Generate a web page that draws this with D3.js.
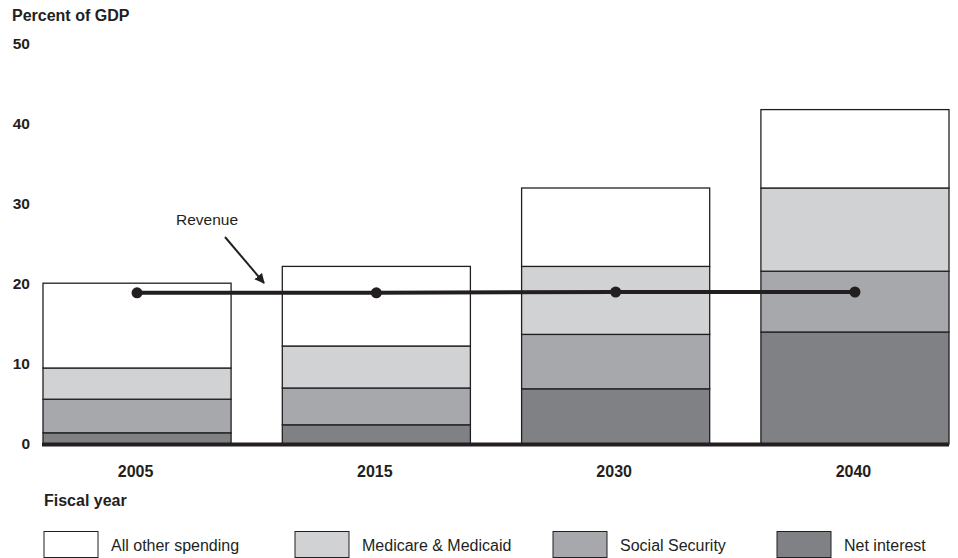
<!DOCTYPE html>
<html>
<head>
<meta charset="utf-8">
<script src="https://cdn.jsdelivr.net/npm/d3@7"></script>
<style>
  body { margin: 0; background: #fff; }
  svg text { font-family: "Liberation Sans", Arial, Helvetica, sans-serif; fill: #231f20; }
</style>
</head>
<body>
<svg id="chart" width="958" height="558"></svg>
<script>
// data (percent of GDP)
const years = ["2005", "2015", "2030", "2040"];
const netInterest = [1.4, 2.4, 6.9, 14.0];
const socialSecurity = [4.2, 4.6, 6.8, 7.6];
const medicare = [3.9, 5.25, 8.5, 10.4];
const allOther = [10.6, 9.95, 9.8, 9.8];
const revenue = [18.9, 18.9, 19.0, 19.0];
const yTicks = [0, 10, 20, 30, 40, 50];

const seriesNames = ["Net interest", "Social Security", "Medicare & Medicaid", "All other spending"];
const seriesColors = ["#808184", "#a7a8ab", "#d1d2d4", "#ffffff"];
const legendOrder = ["All other spending", "Medicare & Medicaid", "Social Security", "Net interest"];
const legendX = [44, 295, 553, 777];

const svg = d3.select("#chart");
const ink = "#231f20";

// build rows for stacking
const rows = years.map((y, i) => ({
  year: y,
  "Net interest": netInterest[i],
  "Social Security": socialSecurity[i],
  "Medicare & Medicaid": medicare[i],
  "All other spending": allOther[i]
}));

const x = d3.scaleBand().domain(years).range([43, 949]).paddingInner(0.214).paddingOuter(0);
const y = d3.scaleLinear().domain([0, 50]).range([444, 44]);
const color = d3.scaleOrdinal().domain(seriesNames).range(seriesColors);

const stacked = d3.stack().keys(seriesNames)(rows);

// bars
svg.append("g").selectAll("g")
  .data(stacked).join("g")
  .attr("fill", d => color(d.key))
  .selectAll("rect")
  .data(d => d).join("rect")
  .attr("x", d => x(d.data.year))
  .attr("y", d => y(d[1]))
  .attr("width", x.bandwidth())
  .attr("height", d => y(d[0]) - y(d[1]))
  .attr("stroke", ink)
  .attr("stroke-width", 1.3);

// baseline
svg.append("line")
  .attr("x1", 42).attr("x2", 949)
  .attr("y1", y(0) + 0.5).attr("y2", y(0) + 0.5)
  .attr("stroke", ink).attr("stroke-width", 4);

// y axis labels (no line)
svg.append("g").selectAll("text")
  .data(yTicks).join("text")
  .attr("x", 30)
  .attr("y", d => y(d))
  .attr("dy", "0.35em")
  .attr("text-anchor", "end")
  .attr("font-size", 15.5)
  .attr("font-weight", "bold")
  .text(d => d);

svg.append("text")
  .attr("x", 12).attr("y", 15).attr("dy", "0.35em")
  .attr("font-size", 16).attr("font-weight", "bold")
  .text("Percent of GDP");

// x labels
svg.append("g").selectAll("text")
  .data(years).join("text")
  .attr("x", d => x(d) + x.bandwidth() / 2 - 1.5)
  .attr("y", 471)
  .attr("dy", "0.35em")
  .attr("text-anchor", "middle")
  .attr("font-size", 16)
  .attr("font-weight", "bold")
  .text(d => d);

svg.append("text")
  .attr("x", 44).attr("y", 500).attr("dy", "0.35em")
  .attr("font-size", 16).attr("font-weight", "bold")
  .text("Fiscal year");

// revenue line
const line = d3.line()
  .x((d, i) => x(years[i]) + x.bandwidth() / 2)
  .y(d => y(d));

svg.append("path")
  .datum(revenue)
  .attr("d", line)
  .attr("fill", "none")
  .attr("stroke", ink)
  .attr("stroke-width", 4);

svg.append("g").selectAll("circle")
  .data(revenue).join("circle")
  .attr("cx", (d, i) => x(years[i]) + x.bandwidth() / 2)
  .attr("cy", d => y(d))
  .attr("r", 5.5)
  .attr("fill", ink);

// revenue annotation
svg.append("defs").append("marker")
  .attr("id", "arrow")
  .attr("viewBox", "0 0 10 10")
  .attr("refX", 9).attr("refY", 5)
  .attr("markerWidth", 5).attr("markerHeight", 5)
  .attr("orient", "auto")
  .append("path")
  .attr("d", "M0,0 L10,5 L0,10 z")
  .attr("fill", ink);

svg.append("line")
  .attr("x1", 225).attr("y1", 237)
  .attr("x2", 264).attr("y2", 283)
  .attr("stroke", ink).attr("stroke-width", 2)
  .attr("marker-end", "url(#arrow)");

svg.append("text")
  .attr("x", 207).attr("y", 220).attr("dy", "0.35em")
  .attr("text-anchor", "middle")
  .attr("font-size", 15.5)
  .text("Revenue");

// legend
const legend = svg.append("g").selectAll("g")
  .data(legendOrder).join("g")
  .attr("transform", (d, i) => `translate(${legendX[i]},531.5)`);

legend.append("rect")
  .attr("width", 54).attr("height", 26)
  .attr("fill", d => color(d))
  .attr("stroke", ink)
  .attr("stroke-width", 1);

legend.append("text")
  .attr("x", 67).attr("y", 13.5).attr("dy", "0.35em")
  .attr("font-size", 16)
  .text(d => d);
</script>
</body>
</html>
